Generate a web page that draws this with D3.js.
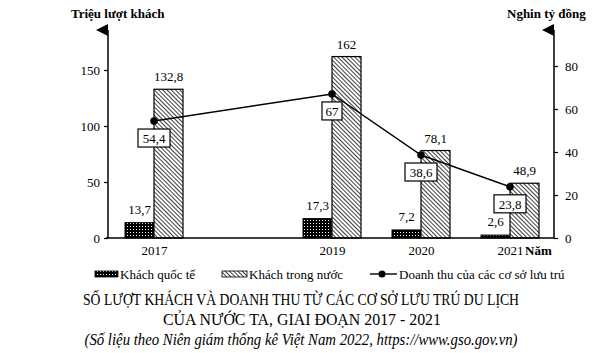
<!DOCTYPE html>
<html>
<head>
<meta charset="utf-8">
<script src="https://cdn.jsdelivr.net/npm/d3@7"></script>
<style>
  body { margin: 0; background: #fff; }
  svg text { font-family: "Liberation Serif", "Times New Roman", serif; fill: #000; }
</style>
</head>
<body>
<div id="chart"></div>
<script>
// data
var years = [2017, 2019, 2020, 2021];
var khachQuocTe = [13.7, 17.3, 7.2, 2.6];
var khachTrongNuoc = [132.8, 162, 78.1, 48.9];
var doanhThu = [54.4, 67, 38.6, 23.8];
var leftTicks = [0, 50, 100, 150];
var rightTicks = [0, 20, 40, 60, 80];

var W = 602, H = 353;
var svg = d3.select("#chart").append("svg")
  .attr("width", W).attr("height", H);

var defs = svg.append("defs");
// black with white dots
var pd = defs.append("pattern").attr("id", "dots")
  .attr("patternUnits", "userSpaceOnUse").attr("width", 3).attr("height", 3);
pd.append("rect").attr("width", 3).attr("height", 3).attr("fill", "#000");
pd.append("rect").attr("x", 1).attr("y", 1).attr("width", 1).attr("height", 1).attr("fill", "#fff");
// diagonal hatch, top-left to bottom-right
var ph = defs.append("pattern").attr("id", "hatch")
  .attr("patternUnits", "userSpaceOnUse").attr("width", 3).attr("height", 3)
  .attr("patternTransform", "rotate(-45)");
ph.append("rect").attr("width", 3).attr("height", 3).attr("fill", "#fff");
ph.append("line").attr("x1", 0).attr("y1", 0).attr("x2", 0).attr("y2", 3)
  .attr("stroke", "#000").attr("stroke-width", 1.5);
defs.append("marker").attr("id", "arrow")
  .attr("viewBox", "0 0 10 10").attr("refX", 5).attr("refY", 10)
  .attr("markerWidth", 8).attr("markerHeight", 9).attr("orient", "auto-start-reverse")
  .append("path").attr("d", "M0,10 L5,0 L10,10 Z").attr("fill", "#000");

var x = d3.scaleLinear().domain([2017, 2021]).range([154, 510]);
var yL = d3.scaleLinear().domain([0, 150]).range([238, 70]);
var yR = d3.scaleLinear().domain([0, 80]).range([238, 66]);
var bw = 29;
var xLeft = 108, xRight = 554, axisTop = 28;

// bars
var data = years.map(function(y, i) {
  return {year: y, qt: khachQuocTe[i], tn: khachTrongNuoc[i], dt: doanhThu[i]};
});

svg.selectAll("rect.qt").data(data).enter().append("rect")
  .attr("class", "qt")
  .attr("x", function(d) { return x(d.year) - bw; })
  .attr("y", function(d) { return yL(d.qt); })
  .attr("width", bw)
  .attr("height", function(d) { return yL(0) - yL(d.qt); })
  .attr("fill", "url(#dots)").attr("stroke", "#000").attr("stroke-width", 1);

svg.selectAll("rect.tn").data(data).enter().append("rect")
  .attr("class", "tn")
  .attr("x", function(d) { return x(d.year); })
  .attr("y", function(d) { return yL(d.tn); })
  .attr("width", bw)
  .attr("height", function(d) { return yL(0) - yL(d.tn); })
  .attr("fill", "url(#hatch)").attr("stroke", "#000").attr("stroke-width", 1.2);

var fmt = function(v) { return String(v).replace(".", ","); };

svg.selectAll("text.lqt").data(data).enter().append("text")
  .attr("x", function(d) { return x(d.year) - bw / 2; })
  .attr("y", function(d) { return yL(d.qt) - 9; })
  .attr("text-anchor", "middle").attr("font-size", 13)
  .text(function(d) { return fmt(d.qt); });

svg.selectAll("text.ltn").data(data).enter().append("text")
  .attr("x", function(d) { return x(d.year) + bw / 2; })
  .attr("y", function(d) { return yL(d.tn) - 8; })
  .attr("text-anchor", "middle").attr("font-size", 13)
  .text(function(d) { return fmt(d.tn); });

// axes
var axL = svg.append("g").attr("transform", "translate(" + xLeft + ",0)")
  .call(d3.axisLeft(yL).tickValues(leftTicks).tickSize(4).tickPadding(4));
var axR = svg.append("g").attr("transform", "translate(" + xRight + ",0)")
  .call(d3.axisRight(yR).tickValues(rightTicks).tickSize(4).tickPadding(7));
[axL, axR].forEach(function(g) {
  g.attr("font-family", null);
  g.select(".domain").remove();
  g.selectAll("text").attr("font-size", 13);
  g.selectAll("line").attr("stroke-width", 1.2);
});
svg.append("line").attr("x1", xLeft).attr("x2", xLeft).attr("y1", 238).attr("y2", axisTop + 2)
  .attr("stroke", "#000").attr("stroke-width", 1.5).attr("marker-end", "url(#arrow)");
svg.append("line").attr("x1", xRight).attr("x2", xRight).attr("y1", 238).attr("y2", axisTop + 2)
  .attr("stroke", "#000").attr("stroke-width", 1.5).attr("marker-end", "url(#arrow)");

var axB = svg.append("g").attr("transform", "translate(0,238)")
  .call(d3.axisBottom(x).tickValues(years).tickFormat(d3.format("d")).tickSize(0).tickPadding(8));
axB.attr("font-family", null);
axB.select(".domain").attr("d", "M" + (xLeft - 2) + ",0H" + xRight).attr("stroke-width", 1.5);
axB.selectAll("text").attr("font-size", 13);

svg.append("text").attr("x", 525).attr("y", 255).attr("font-size", 13).attr("font-weight", "bold").text("Năm");
svg.append("text").attr("x", 71).attr("y", 18).attr("font-size", 13).attr("font-weight", "bold").text("Triệu lượt khách");
svg.append("text").attr("x", 507).attr("y", 18).attr("font-size", 13).attr("font-weight", "bold").text("Nghin tỷ đồng");

// line
var line = d3.line().x(function(d) { return x(d.year); }).y(function(d) { return yR(d.dt); });
svg.append("path").datum(data).attr("d", line)
  .attr("fill", "none").attr("stroke", "#000").attr("stroke-width", 1.4);
svg.selectAll("circle.dt").data(data).enter().append("circle")
  .attr("cx", function(d) { return x(d.year); })
  .attr("cy", function(d) { return yR(d.dt); })
  .attr("r", 3.8).attr("fill", "#000");

var boxes = svg.selectAll("g.box").data(data).enter().append("g")
  .attr("transform", function(d) { return "translate(" + x(d.year) + "," + (yR(d.dt) + 17) + ")"; });
boxes.append("rect")
  .attr("x", function(d) { return fmt(d.dt).length > 2 ? -16 : -10; })
  .attr("width", function(d) { return fmt(d.dt).length > 2 ? 32 : 20; })
  .attr("y", -9).attr("height", 18)
  .attr("fill", "#fff").attr("stroke", "#000").attr("stroke-width", 1.2);
boxes.append("text").attr("text-anchor", "middle").attr("y", 5).attr("font-size", 13)
  .text(function(d) { return fmt(d.dt); });

// legend
var lg = svg.append("g");
lg.append("rect").attr("x", 95).attr("y", 271).attr("width", 23).attr("height", 6)
  .attr("fill", "url(#dots)").attr("stroke", "#000").attr("stroke-width", 0.8);
lg.append("text").attr("x", 120).attr("y", 279).attr("font-size", 13).text("Khách quốc tế");
lg.append("rect").attr("x", 222).attr("y", 271).attr("width", 25).attr("height", 6)
  .attr("fill", "url(#hatch)").attr("stroke", "#000").attr("stroke-width", 0.8);
lg.append("text").attr("x", 249).attr("y", 279).attr("font-size", 13).text("Khách trong nước");
lg.append("line").attr("x1", 370).attr("x2", 397).attr("y1", 274).attr("y2", 274)
  .attr("stroke", "#000").attr("stroke-width", 1.4);
lg.append("circle").attr("cx", 382).attr("cy", 274).attr("r", 3.5).attr("fill", "#000");
lg.append("text").attr("x", 399).attr("y", 279).attr("font-size", 13).text("Doanh thu của các cơ sở lưu trú");

// title
svg.append("text").attr("x", 301).attr("y", 305).attr("text-anchor", "middle").attr("font-size", 16)
  .attr("textLength", 436).attr("lengthAdjust", "spacingAndGlyphs")
  .text("SỐ LƯỢT KHÁCH VÀ DOANH THU TỪ CÁC CƠ SỞ LƯU TRÚ DU LỊCH");
svg.append("text").attr("x", 302).attr("y", 325).attr("text-anchor", "middle").attr("font-size", 16)
  .attr("textLength", 278).attr("lengthAdjust", "spacingAndGlyphs")
  .text("CỦA NƯỚC TA, GIAI ĐOẠN 2017 - 2021");
svg.append("text").attr("x", 301).attr("y", 345).attr("text-anchor", "middle").attr("font-size", 16)
  .attr("font-style", "italic").attr("textLength", 433).attr("lengthAdjust", "spacingAndGlyphs")
  .text("(Số liệu theo Niên giám thống kê Việt Nam 2022, https://www.gso.gov.vn)");
</script>
</body>
</html>
